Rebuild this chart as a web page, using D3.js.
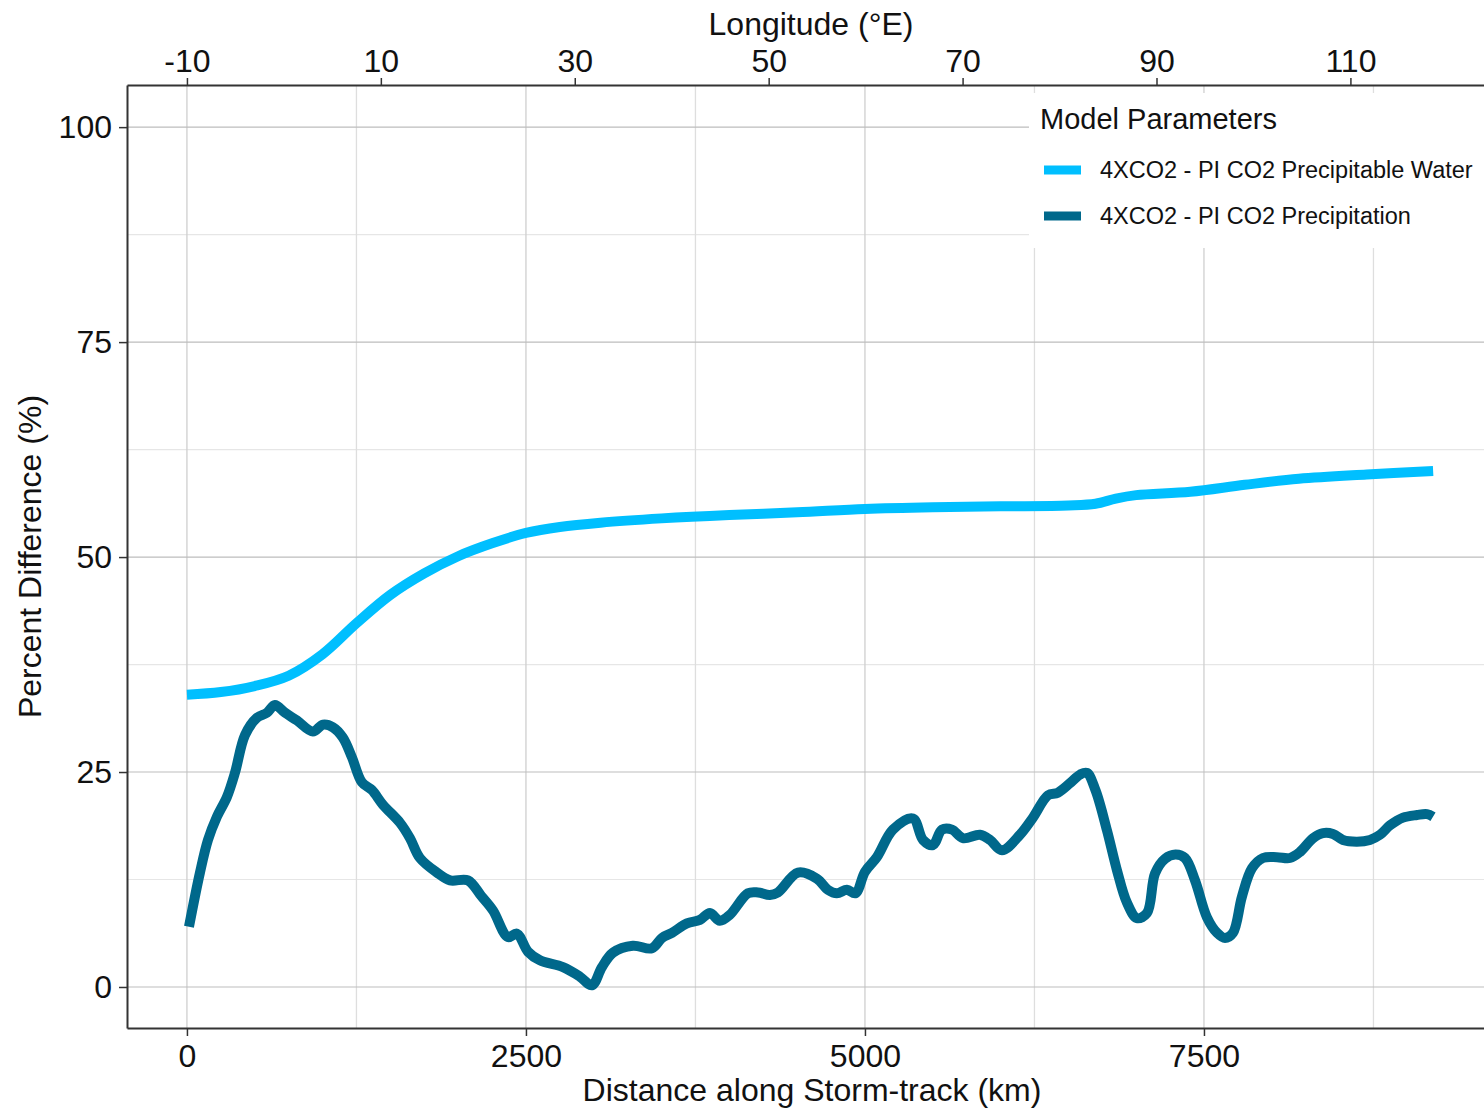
<!DOCTYPE html>
<html>
<head>
<meta charset="utf-8">
<script src="https://cdn.jsdelivr.net/npm/d3@7"></script>
<style>
  body { margin: 0; background: #fff; }
  text { font-family: "Liberation Sans", Arial, Helvetica, sans-serif; fill: #111; }
</style>
</head>
<body>
<div id="container"></div>
<script>
// Precipitable water (light blue) - distance (km) and percent difference
const pwDist = [0, 250, 500, 750, 1000, 1250, 1500, 1750, 2000, 2250, 2500, 2750, 3050, 3500, 4000, 4500, 5000, 5500, 6000, 6500, 6700, 6850, 7000, 7400, 7800, 8200, 8700, 9190];
const pwVals = [34.0, 34.3, 35.0, 36.2, 38.7, 42.3, 45.6, 48.1, 50.1, 51.6, 52.8, 53.5, 54.0, 54.5, 54.9, 55.2, 55.6, 55.8, 55.9, 56.0, 56.2, 56.8, 57.2, 57.6, 58.4, 59.1, 59.6, 60.0];

// Precipitation (dark blue)
const prDist = [15, 96, 155, 221, 295, 354, 428, 516, 590, 649, 723, 811, 929, 1003, 1077, 1150, 1217, 1290, 1364, 1445, 1571, 1645, 1718, 1844, 1940, 2072, 2170, 2257, 2367, 2434, 2515, 2603, 2773, 2898, 2987, 3060, 3142, 3289, 3429, 3503, 3577, 3687, 3783, 3857, 3930, 4004, 4137, 4211, 4299, 4358, 4506, 4646, 4727, 4793, 4867, 4930, 5000, 5088, 5206, 5354, 5428, 5501, 5568, 5642, 5723, 5848, 5922, 6010, 6143, 6239, 6350, 6423, 6512, 6586, 6637, 6700, 6785, 6858, 6932, 7006, 7080, 7139, 7212, 7290, 7360, 7434, 7522, 7596, 7655, 7714, 7780, 7854, 7935, 8038, 8134, 8208, 8304, 8378, 8451, 8525, 8628, 8724, 8798, 8872, 8968, 9071, 9145, 9189];
const prVals = [7.0, 13.3, 17.1, 19.8, 22.1, 24.9, 29.3, 31.3, 31.9, 32.8, 31.9, 31.0, 29.7, 30.5, 30.2, 29.0, 26.7, 23.8, 22.9, 21.2, 19.1, 17.3, 15.0, 13.3, 12.4, 12.4, 10.6, 8.9, 5.8, 6.2, 4.1, 3.1, 2.3, 1.2, 0.2, 2.3, 4.0, 4.8, 4.5, 5.7, 6.3, 7.4, 7.8, 8.6, 7.7, 8.4, 10.9, 11.0, 10.7, 11.0, 13.3, 12.6, 11.3, 10.9, 11.3, 10.9, 13.4, 15.1, 18.3, 19.6, 17.1, 16.5, 18.3, 18.3, 17.3, 17.7, 17.1, 15.9, 17.7, 19.7, 22.3, 22.6, 23.7, 24.7, 24.9, 22.9, 18.2, 13.6, 9.8, 8.0, 8.6, 13.2, 14.9, 15.4, 15.0, 12.4, 8.1, 6.3, 5.7, 6.3, 10.5, 13.8, 15.0, 15.1, 15.0, 15.7, 17.3, 17.9, 17.8, 17.1, 16.9, 17.1, 17.7, 18.8, 19.7, 20.0, 20.1, 19.8];

const seriesNames = ["4XCO2 - PI CO2 Precipitable Water", "4XCO2 - PI CO2 Precipitation"];
const seriesColors = ["#00BFFF", "#00688B"];

const xTicks = [0, 2500, 5000, 7500];
const xMinor = [1250, 3750, 6250, 8750];
const yTicks = [0, 25, 50, 75, 100];
const yMinor = [12.5, 37.5, 62.5, 87.5];
const lonTicks = [-10, 10, 30, 50, 70, 90, 110];
const kmPerDeg = 71.5; // km per degree of longitude along the track
const lonStart = -10;

// Dimensions
const width = 1484, height = 1111;
const margin = { left: 127, right: 1497, top: 85, bottom: 1028 };

const svg = d3.select("#container")
  .append("svg")
  .attr("width", width)
  .attr("height", height);

const x = d3.scaleLinear().domain([-442, 9661]).range([margin.left, margin.right]);
const y = d3.scaleLinear().domain([-4.77, 104.9]).range([margin.bottom, margin.top]);
const lon = d3.scaleLinear()
  .domain([lonStart + x.domain()[0] / kmPerDeg, lonStart + x.domain()[1] / kmPerDeg])
  .range([margin.left, margin.right]);

// Grid lines
const grid = svg.append("g");
grid.selectAll(".ymin").data(yMinor).join("line")
  .attr("x1", margin.left).attr("x2", margin.right)
  .attr("y1", d => y(d)).attr("y2", d => y(d))
  .attr("stroke", "#e6e6e6").attr("stroke-width", 1.2);
grid.selectAll(".xgrid").data(xTicks.concat(xMinor)).join("line")
  .attr("x1", d => x(d)).attr("x2", d => x(d))
  .attr("y1", margin.top).attr("y2", margin.bottom)
  .attr("stroke", d => xTicks.includes(d) ? "#cfcfcf" : "#dedede").attr("stroke-width", 1.3);
grid.selectAll(".ymaj").data(yTicks).join("line")
  .attr("x1", margin.left).attr("x2", margin.right)
  .attr("y1", d => y(d)).attr("y2", d => y(d))
  .attr("stroke", "#bdbdbd").attr("stroke-width", 1.2);

// Lines
const line = d3.line()
  .x(d => x(d[0]))
  .y(d => y(d[1]));

svg.append("path")
  .datum(pwDist.map((d, i) => [d, pwVals[i]]))
  .attr("d", line.curve(d3.curveCatmullRom.alpha(0.5)))
  .attr("fill", "none")
  .attr("stroke", seriesColors[0])
  .attr("stroke-width", 10);

svg.append("path")
  .datum(prDist.map((d, i) => [d, prVals[i]]))
  .attr("d", line.curve(d3.curveCatmullRom.alpha(0.5)))
  .attr("fill", "none")
  .attr("stroke", seriesColors[1])
  .attr("stroke-width", 10)
  .attr("stroke-linejoin", "round");

// Axes
const axisColor = "#333";
const fmt = d => String(d).replace("\u2212", "-");
const bottomAxis = svg.append("g")
  .attr("transform", `translate(0,${margin.bottom})`)
  .call(d3.axisBottom(x).tickValues(xTicks).tickFormat(fmt).tickSizeInner(8).tickSizeOuter(0).tickPadding(8));
const leftAxis = svg.append("g")
  .attr("transform", `translate(${margin.left},0)`)
  .call(d3.axisLeft(y).tickValues(yTicks).tickFormat(fmt).tickSizeInner(8).tickSizeOuter(0).tickPadding(7));
const topAxis = svg.append("g")
  .attr("transform", `translate(0,${margin.top})`)
  .call(d3.axisTop(lon).tickValues(lonTicks).tickFormat(fmt).tickSizeInner(7).tickSizeOuter(0).tickPadding(6));

[bottomAxis, leftAxis, topAxis].forEach(g => {
  g.select(".domain").attr("stroke", axisColor).attr("stroke-width", 2);
  g.selectAll(".tick line").attr("stroke", axisColor).attr("stroke-width", 1.5);
  g.selectAll(".tick text")
    .attr("font-size", 32)
    .attr("fill", "#111")
    .attr("font-family", "Liberation Sans, Arial, sans-serif");
});

// Axis titles
svg.append("text")
  .attr("x", 812).attr("y", 1101)
  .attr("text-anchor", "middle")
  .attr("font-size", 32)
  .text("Distance along Storm-track (km)");

svg.append("text")
  .attr("x", 811).attr("y", 35)
  .attr("text-anchor", "middle")
  .attr("font-size", 32)
  .text("Longitude (°E)");

svg.append("text")
  .attr("transform", `translate(41,${(margin.top + margin.bottom) / 2}) rotate(-90)`)
  .attr("text-anchor", "middle")
  .attr("font-size", 32)
  .text("Percent Difference (%)");

// Legend
const legend = svg.append("g");
legend.append("rect")
  .attr("x", 1029).attr("y", 93)
  .attr("width", 480).attr("height", 155)
  .attr("fill", "#fff");
legend.append("text")
  .attr("x", 1040).attr("y", 129)
  .attr("font-size", 29)
  .text("Model Parameters");
legend.selectAll(".key").data(seriesNames).join("line")
  .attr("x1", 1044).attr("x2", 1081)
  .attr("y1", (d, i) => 170 + i * 46).attr("y2", (d, i) => 170 + i * 46)
  .attr("stroke", (d, i) => seriesColors[i])
  .attr("stroke-width", 9);
legend.selectAll(".lab").data(seriesNames).join("text")
  .attr("x", 1100)
  .attr("y", (d, i) => 178 + i * 46)
  .attr("font-size", 23.5)
  .text(d => d);
</script>
</body>
</html>
